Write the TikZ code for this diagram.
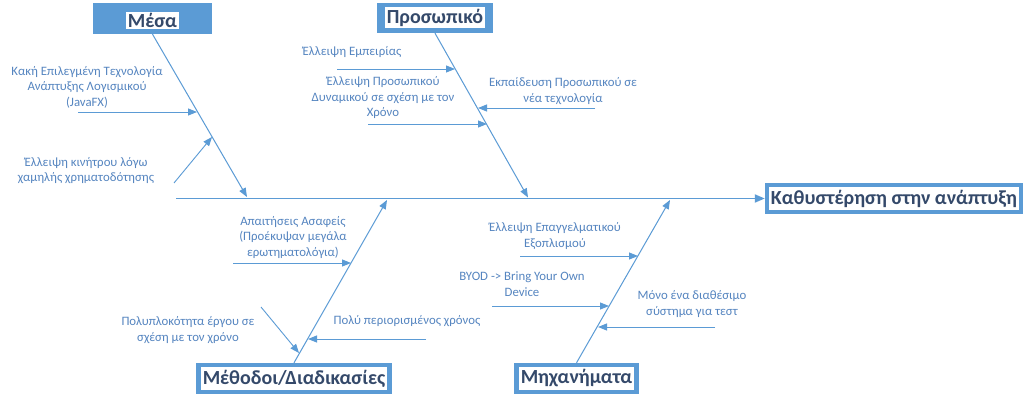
\documentclass[tikz,border=0pt]{standalone}
\usepackage{fontspec}
\setmainfont{Carlito}
\usetikzlibrary{arrows.meta}
\definecolor{boxblue}{HTML}{5B9BD5}
\definecolor{lineblue}{HTML}{5B9BD5}
\definecolor{txtblue}{HTML}{5585C0}
\definecolor{titletxt}{HTML}{34496A}
\tikzset{
  outerbox/.style={fill=boxblue, draw=none, inner sep=0pt},
  titletext/.style={fill=white, inner sep=1.5pt, text=titletxt, font=\fontsize{20}{23}\selectfont\bfseries},
  cause/.style={text=txtblue, align=center, inner sep=0pt, font=\fontsize{12.8}{15.5}\selectfont},
  bone/.style={draw=lineblue, line width=1pt, -{Triangle[length=9pt,width=7pt]}},
  sub/.style={draw=lineblue, line width=0.9pt, -{Triangle[length=9pt,width=7pt]}},
  spine/.style={draw=lineblue, line width=1.8pt, -{Triangle[length=10pt,width=8pt]}}
}
\begin{document}
\begin{tikzpicture}[x=1pt,y=-1pt]
\useasboundingbox[fill=white] (0,0) rectangle (1027,401);
% category boxes
\node[outerbox, minimum width=119pt, minimum height=31pt] (mesa) at (152.5,18.5) {};
\node[titletext] (mesat) at (152.5,20.5) {Μέσα};
\node[outerbox, minimum width=116pt, minimum height=30pt] (pros) at (435,18) {};
\node[titletext] (prost) at (435,17.5) {Προσωπικό};
\node[outerbox, minimum width=196pt, minimum height=31pt] (meth) at (294,378.5) {};
\node[titletext, minimum width=186pt, minimum height=23pt] (metht) at (294,378.5) {Μέθοδοι/Διαδικασίες};
\node[outerbox, minimum width=125pt, minimum height=31pt] (mech) at (576.5,378.5) {};
\node[titletext, minimum width=115pt, minimum height=23pt] (mecht) at (576.5,378.5) {Μηχανήματα};
\node[outerbox, minimum width=258pt, minimum height=31pt] (eff) at (894,198.5) {};
\node[titletext, minimum width=248pt, minimum height=23pt] (efft) at (894,198.5) {Καθυστέρηση στην ανάπτυξη};
% spine
\coordinate (sp0) at (176,198.5);
\draw[spine] (sp0) -- (eff.west);
% bone end points
\coordinate (mesaend) at (247,197);
\coordinate (prosend) at (528,197.5);
\coordinate (methend) at (387,200);
\coordinate (mechend) at (670,200);
\draw[bone] (mesa.south) -- (mesaend);
\draw[bone] (pros.south) -- (prosend);
\draw[bone] (meth.north) -- (methend);
\draw[bone] (mech.north) -- (mechend);
% causes: Μέσα
\node[cause] (c1) at (87,87) {Κακή Επιλεγμένη Τεχνολογία\\Ανάπτυξης Λογισμικού\\(JavaFX)};
\coordinate (c1s) at (78,112);
\coordinate (c1e) at (197,112);
\draw[sub] (c1s) -- (c1e);
\node[cause] (c2) at (86,170.5) {Έλλειψη κινήτρου λόγω\\χαμηλής χρηματοδότησης};
\coordinate (c2s) at (174,183);
\coordinate (c2e) at (212,137);
\draw[sub] (c2s) -- (c2e);
% Προσωπικό
\node[cause] (c3) at (352,52) {Έλλειψη Εμπειρίας};
\coordinate (c3s) at (337,69);
\coordinate (c3e) at (455,69);
\draw[sub] (c3s) -- (c3e);
\node[cause] (c4) at (383,98) {Έλλειψη Προσωπικού\\Δυναμικού σε σχέση με τον\\Χρόνο};
\coordinate (c4s) at (368,124);
\coordinate (c4e) at (487,124);
\draw[sub] (c4s) -- (c4e);
\node[cause] (c5) at (563,91) {Εκπαίδευση Προσωπικού σε\\νέα τεχνολογία};
\coordinate (c5s) at (595,108);
\coordinate (c5e) at (478,108);
\draw[sub] (c5s) -- (c5e);
% Μέθοδοι
\node[cause] (c6) at (293,237.5) {Απαιτήσεις Ασαφείς\\(Προέκυψαν μεγάλα\\ερωτηματολόγια)};
\coordinate (c6s) at (233,263);
\coordinate (c6e) at (351,263);
\draw[sub] (c6s) -- (c6e);
\node[cause] (c7) at (188,330) {Πολυπλοκότητα έργου σε\\σχέση με τον χρόνο};
\coordinate (c7s) at (261,307);
\coordinate (c7e) at (299,353);
\draw[sub] (c7s) -- (c7e);
\node[cause] (c8) at (407,321) {Πολύ περιορισμένος χρόνος};
\coordinate (c8s) at (426,339);
\coordinate (c8e) at (308,339);
\draw[sub] (c8s) -- (c8e);
% Μηχανήματα
\node[cause] (c9) at (555,236) {Έλλειψη Επαγγελματικού\\Εξοπλισμού};
\coordinate (c9s) at (520,256);
\coordinate (c9e) at (638,256);
\draw[sub] (c9s) -- (c9e);
\node[cause] (c10) at (522,284) {BYOD -> Bring Your Own\\Device};
\coordinate (c10s) at (492,306);
\coordinate (c10e) at (609,306);
\draw[sub] (c10s) -- (c10e);
\node[cause] (c11) at (692,304) {Μόνο ένα διαθέσιμο\\σύστημα για τεστ};
\coordinate (c11s) at (715,327);
\coordinate (c11e) at (598,327);
\draw[sub] (c11s) -- (c11e);
\end{tikzpicture}
\end{document}
